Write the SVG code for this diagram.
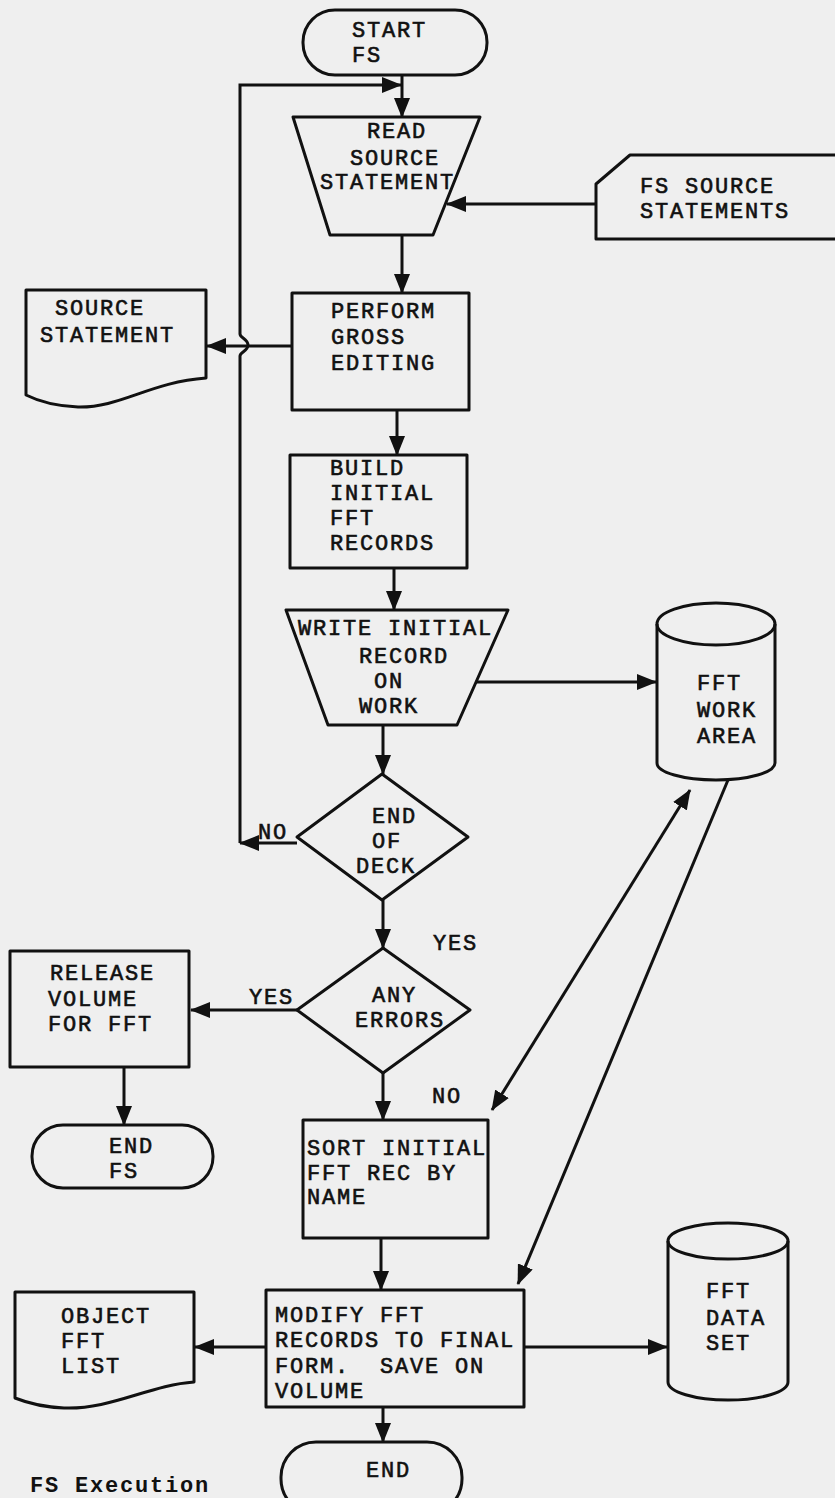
<svg xmlns="http://www.w3.org/2000/svg" width="835" height="1498" viewBox="0 0 835 1498">
<defs>
<style>
.s{fill:none;stroke:#111;stroke-width:3;stroke-linejoin:round}
.c{fill:none;stroke:#111;stroke-width:3}
.t{font-family:"Liberation Mono","DejaVu Sans Mono",monospace;font-size:22px;letter-spacing:1.8px;fill:#111;stroke:#111;stroke-width:0.6}
.b{font-family:"Liberation Mono","DejaVu Sans Mono",monospace;font-size:22px;letter-spacing:1.8px;font-weight:bold;fill:#111}
</style>
<marker id="ah" viewBox="0 0 20 16" refX="19" refY="8" markerWidth="20" markerHeight="16" orient="auto-start-reverse" markerUnits="userSpaceOnUse">
<path d="M0,0 L20,8 L0,16 Z" fill="#111"/>
</marker>
</defs>
<rect x="0" y="0" width="835" height="1498" fill="#efefef"/>

<g id="connectors">
<path class="c" d="M402,75 V117" marker-end="url(#ah)"/>
<path class="c" d="M297,843 H240" marker-end="url(#ah)"/>
<path class="c" d="M240,843 V356 C240,352 248,351 248,345 C248,339 240,338 240,334 V85 H401" marker-end="url(#ah)"/>
<path class="c" d="M596,204 H447" marker-end="url(#ah)"/>
<path class="c" d="M402,235 V293" marker-end="url(#ah)"/>
<path class="c" d="M292,346 H207" marker-end="url(#ah)"/>
<path class="c" d="M397,410 V455" marker-end="url(#ah)"/>
<path class="c" d="M394,568 V610" marker-end="url(#ah)"/>
<path class="c" d="M476,682 H656" marker-end="url(#ah)"/>
<path class="c" d="M383,725 V774" marker-end="url(#ah)"/>
<path class="c" d="M383,900 V948" marker-end="url(#ah)"/>
<path class="c" d="M297,1010 H191" marker-end="url(#ah)"/>
<path class="c" d="M124,1067 V1125" marker-end="url(#ah)"/>
<path class="c" d="M383,1073 V1120" marker-end="url(#ah)"/>
<path class="c" d="M690,790 L492,1110" marker-start="url(#ah)" marker-end="url(#ah)"/>
<path class="c" d="M728,780 L518,1284" marker-end="url(#ah)"/>
<path class="c" d="M381,1238 V1290" marker-end="url(#ah)"/>
<path class="c" d="M266,1347 H195" marker-end="url(#ah)"/>
<path class="c" d="M524,1347 H667" marker-end="url(#ah)"/>
<path class="c" d="M383,1407 V1442" marker-end="url(#ah)"/>
<text class="t" x="258" y="839">NO</text>
<text class="t" x="433" y="950">YES</text>
<text class="t" x="249" y="1004">YES</text>
<text class="t" x="432" y="1103">NO</text>
</g>

<g id="start">
<rect class="s" x="303" y="10" width="184" height="65" rx="32"/>
<text class="t" x="352" y="37">START</text>
<text class="t" x="352" y="62">FS</text>
</g>

<g id="read">
<polygon class="s" points="293,117 480,117 433,235 330,235"/>
<text class="t" x="367" y="138">READ</text>
<text class="t" x="350" y="165">SOURCE</text>
<text class="t" x="320" y="189">STATEMENT</text>
</g>

<g id="fs-source">
<path class="s" d="M840,155 H630 L596,184 V239 H840"/>
<text class="t" x="640" y="193">FS SOURCE</text>
<text class="t" x="640" y="218">STATEMENTS</text>
</g>

<g id="source-statement">
<path class="s" d="M26,290 H206 V378 C150,382 120,408 78,407 C54,406 36,400 26,395 Z"/>
<text class="t" x="55" y="315">SOURCE</text>
<text class="t" x="40" y="342">STATEMENT</text>
</g>

<g id="perform">
<rect class="s" x="292" y="293" width="177" height="117"/>
<text class="t" x="331" y="318">PERFORM</text>
<text class="t" x="331" y="344">GROSS</text>
<text class="t" x="331" y="370">EDITING</text>
</g>

<g id="build">
<rect class="s" x="290" y="455" width="177" height="113"/>
<text class="t" x="330" y="475">BUILD</text>
<text class="t" x="330" y="500">INITIAL</text>
<text class="t" x="330" y="525">FFT</text>
<text class="t" x="330" y="550">RECORDS</text>
</g>

<g id="write">
<polygon class="s" points="286,610 508,610 457,725 328,725"/>
<text class="t" x="298" y="635">WRITE INITIAL</text>
<text class="t" x="359" y="663">RECORD</text>
<text class="t" x="374" y="688">ON</text>
<text class="t" x="359" y="713">WORK</text>
</g>

<g id="fft-work-area">
<ellipse class="s" cx="716" cy="624" rx="59" ry="21"/>
<path class="s" d="M657,624 V763 A59,17 0 0 0 775,763 V624"/>
<text class="t" x="697" y="690">FFT</text>
<text class="t" x="697" y="717">WORK</text>
<text class="t" x="697" y="743">AREA</text>
</g>

<g id="end-of-deck">
<polygon class="s" points="382,774 468,837 382,900 297,837"/>
<text class="t" x="372" y="823">END</text>
<text class="t" x="372" y="848">OF</text>
<text class="t" x="356" y="873">DECK</text>
</g>

<g id="any-errors">
<polygon class="s" points="383,948 470,1010 383,1073 297,1010"/>
<text class="t" x="372" y="1002">ANY</text>
<text class="t" x="355" y="1027">ERRORS</text>
</g>

<g id="release">
<rect class="s" x="10" y="951" width="179" height="116"/>
<text class="t" x="50" y="980">RELEASE</text>
<text class="t" x="48" y="1006">VOLUME</text>
<text class="t" x="48" y="1031">FOR FFT</text>
</g>

<g id="end-fs">
<rect class="s" x="32" y="1125" width="181" height="63" rx="31"/>
<text class="t" x="109" y="1153">END</text>
<text class="t" x="109" y="1178">FS</text>
</g>

<g id="sort">
<rect class="s" x="303" y="1120" width="185" height="118"/>
<text class="t" x="307" y="1155">SORT INITIAL</text>
<text class="t" x="307" y="1180">FFT REC BY</text>
<text class="t" x="307" y="1204">NAME</text>
</g>

<g id="modify">
<rect class="s" x="266" y="1290" width="258" height="117"/>
<text class="t" x="275" y="1322">MODIFY FFT</text>
<text class="t" x="275" y="1347">RECORDS TO FINAL</text>
<text class="t" x="275" y="1373" xml:space="preserve">FORM.  SAVE ON</text>
<text class="t" x="275" y="1398">VOLUME</text>
</g>

<g id="object-fft-list">
<path class="s" d="M15,1292 H194 V1382 C150,1385 110,1410 64,1408 C40,1407 25,1402 15,1398 Z"/>
<text class="t" x="61" y="1323">OBJECT</text>
<text class="t" x="61" y="1348">FFT</text>
<text class="t" x="61" y="1373">LIST</text>
</g>

<g id="fft-data-set">
<ellipse class="s" cx="728" cy="1241" rx="60" ry="18"/>
<path class="s" d="M668,1241 V1382 A60,18 0 0 0 788,1382 V1241"/>
<text class="t" x="706" y="1298">FFT</text>
<text class="t" x="706" y="1325">DATA</text>
<text class="t" x="706" y="1350">SET</text>
</g>

<g id="end">
<rect class="s" x="281" y="1442" width="181" height="72" rx="35"/>
<text class="t" x="366" y="1477">END</text>
</g>

<text class="b" x="30" y="1492">FS Execution</text>
</svg>
